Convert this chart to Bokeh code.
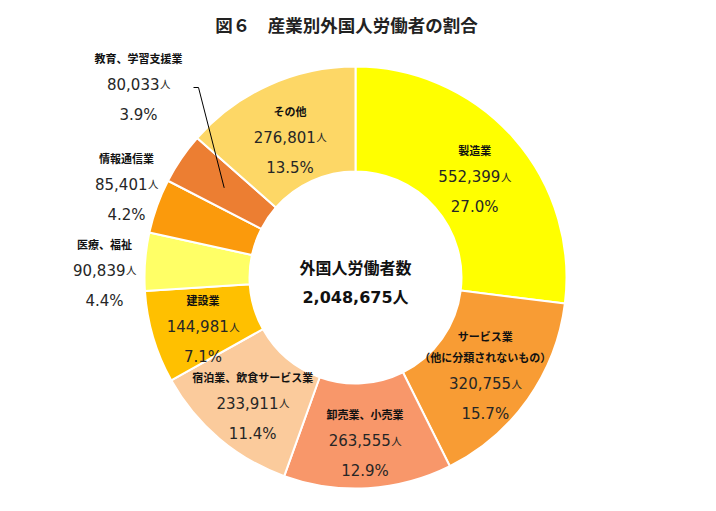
import math
from bokeh.plotting import figure
from bokeh.models import ColumnDataSource, Range1d
from bokeh.core.properties import value
from bokeh.embed import file_html
from bokeh.resources import INLINE

# ---------------- data ----------------
categories = [
    "製造業",
    "サービス業\n（他に分類されないもの）",
    "卸売業、小売業",
    "宿泊業、飲食サービス業",
    "建設業",
    "医療、福祉",
    "情報通信業",
    "教育、学習支援業",
    "その他",
]
workers = [552399, 320755, 263555, 233911, 144981, 90839, 85401, 80033, 276801]
colors = ["#FFFF00", "#F89C34", "#F8976A", "#FBCB9C", "#FFC000",
          "#FFFF66", "#FB9A0C", "#EC7E32", "#FDD766"]
title_text = "図６　産業別外国人労働者の割合"
center_title = "外国人労働者数"
unit = "人"

# ---------------- layout ----------------
W, H = 700, 495


def px(x):
    return x


def py(y):
    return H - y


CX, CY = px(355), py(277)
R_OUT, R_IN, R_LAB = 211, 106, 159
# outside labels (anchor of the value line, reference pixel coords)
outside = {"医療、福祉": (104, 268), "情報通信業": (126, 182), "教育、学習支援業": (138, 82)}
leader_for = "教育、学習支援業"

JP = "Noto Sans CJK JP"
NUM = "DejaVu Sans"
NAME_FS, NUM_FS, JIN_FS = 11, 15, 10.5

total = sum(workers)
fracs = [v / total for v in workers]
cum = [0.0]
for f in fracs:
    cum.append(cum[-1] + f)

p = figure(width=W, height=H, output_backend="svg", toolbar_location=None,
           x_range=Range1d(0, W), y_range=Range1d(0, H),
           x_axis_type=None, y_axis_type=None, min_border=0,
           outline_line_color=None, background_fill_color="white")
p.grid.visible = False

src = ColumnDataSource(dict(
    start=[math.pi / 2 - 2 * math.pi * cum[i] for i in range(len(workers))],
    end=[math.pi / 2 - 2 * math.pi * cum[i + 1] for i in range(len(workers))],
    color=colors,
))
p.annular_wedge(x=CX, y=CY, inner_radius=R_IN, outer_radius=R_OUT,
                inner_radius_units="data", outer_radius_units="data",
                start_angle="start", end_angle="end", direction="clock",
                fill_color="color", line_color="white", line_width=2, source=src)


def num_width(s, fs):
    w = 0.0
    for ch in s:
        if ch.isdigit():
            w += 0.636
        elif ch in ",.":
            w += 0.318
        elif ch == "%":
            w += 0.95
    return w * fs


names_x, names_y, names_t = [], [], []
nums_x, nums_y, nums_t = [], [], []
jin_x, jin_y = [], []
pct_x, pct_y, pct_t = [], [], []

for i, cat in enumerate(categories):
    mid = (cum[i] + cum[i + 1]) / 2
    ang = 2 * math.pi * mid
    name_lines = cat.split("\n")
    if cat in outside:
        ax, vy = outside[cat]
        ax = px(ax)
        vy = py(vy)
    else:
        ax = CX + R_LAB * math.sin(ang)
        ay = CY + R_LAB * math.cos(ang)
        vy = ay - 3 - (len(name_lines) - 1) * 10
    # name lines
    ny = vy + 25
    for ln in reversed(name_lines):
        names_x.append(ax)
        names_y.append(ny)
        names_t.append(ln)
        ny += 21
    # value + small 人
    s = f"{workers[i]:,}"
    wn = num_width(s, NUM_FS)
    wj = JIN_FS
    left = ax - (wn + wj) / 2
    nums_x.append(left + wn)
    nums_y.append(vy - 1)
    nums_t.append(s)
    jin_x.append(left + wn + 0.5)
    jin_y.append(vy - 1)
    # percentage
    pct_x.append(ax)
    pct_y.append(vy - 32)
    pct_t.append(f"{fracs[i] * 100:.1f}%")

    if cat == leader_for:
        mx = CX + R_LAB * math.sin(ang)
        my = CY + R_LAB * math.cos(ang)
        p.line(x=[px(193), px(198), mx], y=[py(87), py(87), my],
               line_color="black", line_width=1)

p.text(x=names_x, y=names_y, text=names_t, text_font=value(JP),
       text_font_size=f"{NAME_FS}px", text_font_style="bold",
       text_align="center", text_baseline="middle", text_color="#111111")
p.text(x=nums_x, y=nums_y, text=nums_t, text_font=value(NUM),
       text_font_size=f"{NUM_FS}px", text_align="right",
       text_baseline="alphabetic", text_color="#262626")
p.text(x=jin_x, y=jin_y, text=[unit] * len(jin_x), text_font=value(JP),
       text_font_size=f"{JIN_FS}px", text_align="left",
       text_baseline="alphabetic", text_color="#262626")
p.text(x=pct_x, y=pct_y, text=pct_t, text_font=value(NUM),
       text_font_size=f"{NUM_FS}px", text_align="center",
       text_baseline="middle", text_color="#262626")

# center text
p.text(x=[CX], y=[py(266)], text=[center_title], text_font=value(JP),
       text_font_size="16px", text_font_style="bold",
       text_align="center", text_baseline="middle", text_color="#111111")
p.text(x=[CX], y=[py(297)], text=[f"{total:,}{unit}"],
       text_font=value("DejaVu Sans, Noto Sans CJK JP"),
       text_font_size="16px", text_font_style="bold",
       text_align="center", text_baseline="middle", text_color="#111111")

# title
p.text(x=[px(346)], y=[py(24)], text=[title_text], text_font=value(JP),
       text_font_size="17.5px", text_font_style="bold",
       text_align="center", text_baseline="middle", text_color="#222222")

open("out.html", "w").write(file_html(p, INLINE))
